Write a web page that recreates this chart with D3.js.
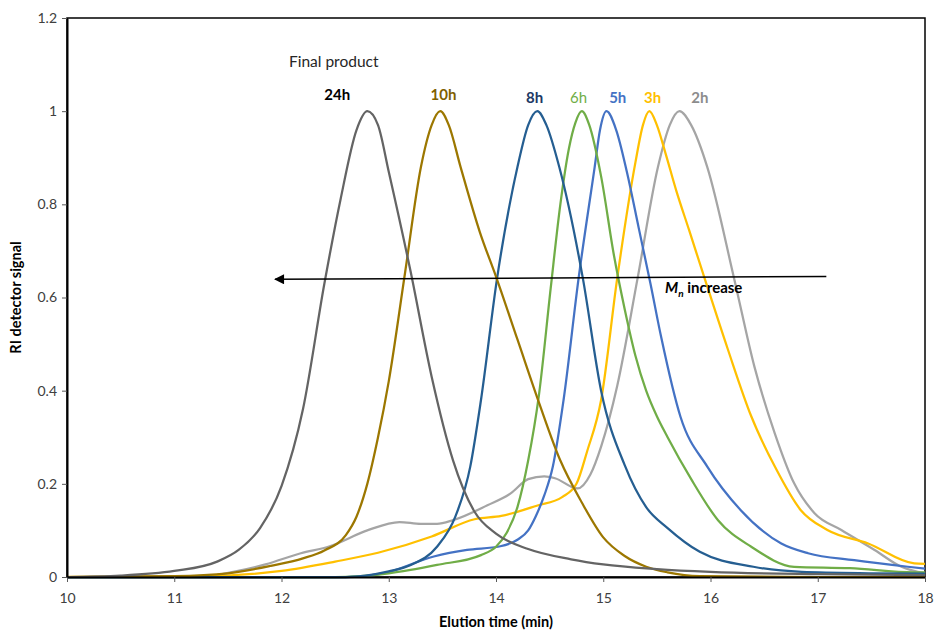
<!DOCTYPE html>
<html>
<head>
<meta charset="utf-8">
<script src="https://cdn.jsdelivr.net/npm/d3@7"></script>
<style>
  body { margin: 0; background: #fff; }
  text { font-family: Lato, "Open Sans", sans-serif; }
</style>
</head>
<body>
<script>
// chart values
var seriesNames = ["2h", "3h", "5h", "6h", "8h", "10h", "24h"];
var seriesColors = ["#a5a5a5", "#ffc000", "#4472c4", "#70ad47", "#255e91", "#9c7700", "#646464"];
var labelColors = ["#8c8c8c", "#ffc000", "#4472c4", "#70ad47", "#203864", "#7f6000", "#000000"];

var t2h = [10, 11.3, 11.55, 11.85, 12.18, 12.45, 12.8, 13.1, 13.3, 13.45, 13.6, 13.92, 14.14, 14.3, 14.45, 14.55, 14.76, 14.88, 14.98, 15.13, 15.32, 15.51, 15.62, 15.71, 15.82, 15.97, 16.22, 16.41, 16.6, 16.78, 16.97, 17.22, 17.53, 17.78, 18];
var y2h = [0, 0.002, 0.011, 0.027, 0.051, 0.066, 0.1, 0.118, 0.114, 0.114, 0.122, 0.154, 0.18, 0.21, 0.216, 0.212, 0.19, 0.22, 0.28, 0.41, 0.641, 0.88, 0.97, 1.0, 0.97, 0.88, 0.641, 0.451, 0.308, 0.201, 0.137, 0.101, 0.058, 0.022, 0.008];

var t3h = [10, 11.2, 12.0, 12.5, 12.9, 13.4, 13.8, 14.05, 14.38, 14.62, 14.75, 14.85, 14.98, 15.13, 15.3, 15.37, 15.43, 15.5, 15.58, 15.68, 15.8, 15.94, 16.16, 16.38, 16.6, 16.84, 17.09, 17.47, 17.9, 18];
var y3h = [0, 0.001, 0.013, 0.033, 0.052, 0.087, 0.124, 0.131, 0.153, 0.172, 0.2, 0.27, 0.38, 0.641, 0.89, 0.97, 1.0, 0.97, 0.91, 0.83, 0.745, 0.645, 0.49, 0.345, 0.237, 0.144, 0.101, 0.072, 0.029, 0.028];

var t5h = [10, 12.6, 12.95, 13.42, 13.73, 14.04, 14.2, 14.3, 14.37, 14.45, 14.53, 14.63, 14.77, 14.92, 14.97, 15.03, 15.12, 15.22, 15.33, 15.44, 15.54, 15.72, 15.97, 16.28, 16.66, 16.91, 17.34, 17.84, 18];
var y5h = [0, 0, 0.008, 0.044, 0.058, 0.066, 0.08, 0.1, 0.13, 0.175, 0.237, 0.38, 0.641, 0.88, 0.96, 1.0, 0.96, 0.87, 0.75, 0.63, 0.515, 0.344, 0.237, 0.144, 0.072, 0.051, 0.036, 0.022, 0.018];

var t6h = [10, 12.5, 13.0, 13.45, 13.86, 14.0, 14.1, 14.2, 14.3, 14.4, 14.51, 14.6, 14.68, 14.74, 14.8, 14.87, 14.98, 15.1, 15.2, 15.3, 15.4, 15.5, 15.6, 15.82, 16.07, 16.38, 16.78, 17.3, 17.9, 18];
var y6h = [0, 0, 0.008, 0.026, 0.047, 0.065, 0.095, 0.15, 0.25, 0.39, 0.62, 0.8, 0.92, 0.975, 1.0, 0.97, 0.86, 0.69, 0.575, 0.475, 0.4, 0.345, 0.3, 0.21, 0.122, 0.065, 0.022, 0.019, 0.01, 0.01];

var t8h = [10, 12.6, 13.0, 13.2, 13.45, 13.62, 13.76, 13.86, 14.01, 14.2, 14.3, 14.385, 14.47, 14.59, 14.81, 14.98, 15.2, 15.4, 15.6, 15.9, 16.4, 16.85, 17.5, 18];
var y8h = [0, 0, 0.012, 0.025, 0.065, 0.129, 0.237, 0.38, 0.641, 0.88, 0.97, 1.0, 0.97, 0.88, 0.641, 0.4, 0.24, 0.15, 0.105, 0.054, 0.022, 0.011, 0.008, 0.007];

var t10h = [10, 11.0, 11.5, 11.9, 12.2, 12.4, 12.6, 12.7, 12.8, 12.9, 13.0, 13.15, 13.3, 13.4, 13.48, 13.56, 13.67, 13.85, 14.0, 14.2, 14.4, 14.6, 14.8, 15.0, 15.2, 15.4, 15.6, 15.9, 17, 18];
var y10h = [0, 0.002, 0.008, 0.024, 0.04, 0.057, 0.09, 0.13, 0.2, 0.3, 0.42, 0.65, 0.88, 0.97, 1.0, 0.97, 0.88, 0.74, 0.645, 0.51, 0.375, 0.25, 0.16, 0.085, 0.045, 0.022, 0.01, 0.002, 0, 0];

var t24h = [10, 10.5, 11.0, 11.4, 11.6, 11.8, 12.0, 12.2, 12.4, 12.55, 12.7, 12.8, 12.9, 13.0, 13.2, 13.4, 13.6, 13.8, 14.0, 14.3, 14.7, 15.0, 15.5, 16, 17, 18];
var y24h = [0, 0.003, 0.013, 0.033, 0.058, 0.105, 0.195, 0.36, 0.63, 0.81, 0.96, 1.0, 0.97, 0.87, 0.66, 0.43, 0.25, 0.14, 0.093, 0.06, 0.038, 0.027, 0.017, 0.011, 0.006, 0.004];

var seriesT = [t2h, t3h, t5h, t6h, t8h, t10h, t24h];
var seriesY = [y2h, y3h, y5h, y6h, y8h, y10h, y24h];

// label anchors (centre of each peak label, in minutes)
var labelT = [15.9, 15.46, 15.135, 14.77, 14.36, 13.51, 12.52];
var xTicks = [10, 11, 12, 13, 14, 15, 16, 17, 18];
var yTicks = [0, 0.2, 0.4, 0.6, 0.8, 1, 1.2];

var w = 936, h = 634;
var margin = {top: 18, right: 11, bottom: 57, left: 67};

var svg = d3.select("body").append("svg")
  .attr("width", w)
  .attr("height", h);

var x = d3.scaleLinear().domain([10, 18]).range([margin.left, w - margin.right]);
var y = d3.scaleLinear().domain([0, 1.2]).range([h - margin.bottom, margin.top]);

// frame
svg.append("rect")
  .attr("x", x(10)).attr("y", y(1.2))
  .attr("width", x(18) - x(10)).attr("height", y(0) - y(1.2))
  .attr("fill", "none").attr("stroke", "#000").attr("stroke-width", 1.5);

// curves
var line = d3.line()
  .x(function(d){ return x(d[0]); })
  .y(function(d){ return y(d[1]); })
  .curve(d3.curveMonotoneX);

seriesNames.forEach(function(name, i){
  var pts = seriesT[i].map(function(t, j){ return [t, seriesY[i][j]]; });
  svg.append("path")
    .datum(pts)
    .attr("d", line)
    .attr("fill", "none")
    .attr("stroke", seriesColors[i])
    .attr("stroke-width", 2.25)
    .attr("stroke-linejoin", "round");
});

// axes
var xAxis = svg.append("g")
  .attr("transform", "translate(0," + y(0) + ")")
  .call(d3.axisBottom(x).tickValues(xTicks).tickFormat(d3.format("d")).tickSize(5).tickSizeOuter(0));
var yAxis = svg.append("g")
  .attr("transform", "translate(" + x(10) + ",0)")
  .call(d3.axisLeft(y).tickValues(yTicks).tickFormat(function(d){ return d === 0 || d === 1 ? d : d3.format(".1f")(d); }).tickSize(5).tickSizeOuter(0));

[xAxis, yAxis].forEach(function(a){
  a.select(".domain").attr("stroke", "#000").attr("stroke-width", 2);
  a.selectAll(".tick line").attr("stroke", "#595959");
  a.selectAll(".tick text").attr("fill", "#404040").attr("font-size", 14)
    .style("font-family", "Lato, sans-serif");
});
xAxis.selectAll(".tick text").attr("dy", "1.25em");
yAxis.selectAll(".tick text").attr("x", -10);

// axis titles
svg.append("text")
  .attr("x", (x(10) + x(18)) / 2).attr("y", 627)
  .attr("text-anchor", "middle")
  .attr("font-size", 14.5).attr("font-weight", "bold")
  .text("Elution time (min)");
svg.append("text")
  .attr("transform", "translate(21," + y(0.6) + ") rotate(-90)")
  .attr("text-anchor", "middle")
  .attr("font-size", 14.5).attr("font-weight", "bold")
  .text("RI detector signal");

// peak labels
seriesNames.forEach(function(name, i){
  svg.append("text")
    .attr("x", x(labelT[i]))
    .attr("y", name === "24h" || name === "10h" ? 100 : 103)
    .attr("text-anchor", "middle")
    .attr("font-size", 15)
    .attr("font-weight", name === "6h" ? "normal" : "bold")
    .attr("fill", labelColors[i])
    .text(name);
});

svg.append("text")
  .attr("x", 289).attr("y", 67)
  .attr("font-size", 15.5).attr("fill", "#262626")
  .text("Final product");

// arrow
svg.append("defs").append("marker")
  .attr("id", "head")
  .attr("viewBox", "0 0 10 10")
  .attr("refX", 9).attr("refY", 5)
  .attr("markerWidth", 13).attr("markerHeight", 10)
  .attr("markerUnits", "userSpaceOnUse")
  .attr("orient", "auto")
  .append("path")
  .attr("d", "M0,0 L10,5 L0,10 Z")
  .attr("fill", "#000");

svg.append("line")
  .attr("x1", x(17.08)).attr("y1", y(0.645))
  .attr("x2", x(11.94)).attr("y2", y(0.639))
  .attr("stroke", "#000").attr("stroke-width", 1.5)
  .attr("marker-end", "url(#head)");

var mn = svg.append("text")
  .attr("x", 665).attr("y", 293)
  .attr("font-size", 15).attr("font-weight", "bold");
mn.append("tspan").attr("font-style", "italic").text("M");
mn.append("tspan").attr("font-style", "italic").attr("font-size", 10).attr("dy", 4).text("n");
mn.append("tspan").attr("dy", -4).text(" increase");
</script>
</body>
</html>
